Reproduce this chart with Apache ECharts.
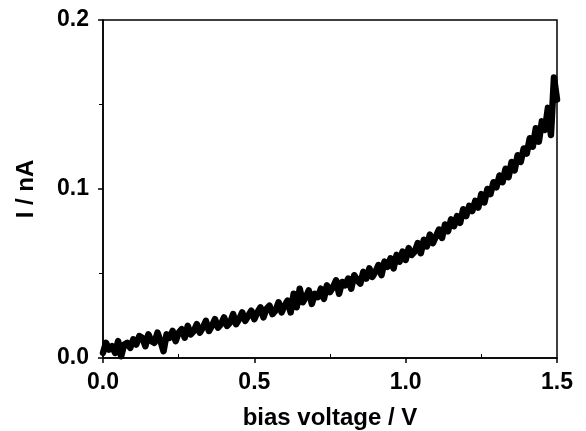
<!DOCTYPE html>
<html>
<head>
<meta charset="utf-8">
<script src="https://cdn.jsdelivr.net/npm/echarts@6/dist/echarts.min.js"></script>
<style>
  html, body { margin: 0; padding: 0; background: #fff; }
  #chart { width: 586px; height: 431px; }
</style>
</head>
<body>
<div id="chart"></div>
<script>
// bias voltage, steps of 0.01 V from 0.00 to 1.50
var voltStep = 0.01;
// current in nA
var current = [
  0.003, 0.009, 0.005, 0.007, 0.003, 0.010, 0.001, 0.008, 0.009, 0.006,
  0.011, 0.008, 0.013, 0.012, 0.007, 0.014, 0.010, 0.009, 0.015, 0.010,
  0.004, 0.014, 0.012, 0.016, 0.010, 0.015, 0.017, 0.012, 0.019, 0.014,
  0.016, 0.020, 0.015, 0.018, 0.022, 0.016, 0.019, 0.023, 0.018, 0.020,
  0.024, 0.019, 0.021, 0.026, 0.020, 0.023, 0.027, 0.022, 0.025, 0.028,
  0.023, 0.027, 0.030, 0.024, 0.029, 0.031, 0.026, 0.028, 0.033, 0.027,
  0.031, 0.034, 0.027, 0.038, 0.030, 0.041, 0.033, 0.036, 0.040, 0.032,
  0.038, 0.036, 0.041, 0.035, 0.043, 0.039, 0.042, 0.046, 0.038, 0.045,
  0.043, 0.047, 0.041, 0.049, 0.046, 0.044, 0.051, 0.047, 0.053, 0.048,
  0.051, 0.055, 0.049, 0.057, 0.054, 0.059, 0.053, 0.061, 0.057, 0.063,
  0.058, 0.065, 0.061, 0.063, 0.068, 0.062, 0.070, 0.066, 0.073, 0.068,
  0.072, 0.076, 0.071, 0.079, 0.075, 0.082, 0.078, 0.084, 0.080, 0.088,
  0.084, 0.090, 0.087, 0.093, 0.089, 0.097, 0.092, 0.100, 0.097, 0.104,
  0.101, 0.108, 0.104, 0.112, 0.107, 0.116, 0.111, 0.120, 0.116, 0.124,
  0.121, 0.130, 0.125, 0.136, 0.128, 0.140, 0.135, 0.148, 0.132, 0.166,
  0.153
];

var points = current.map(function (v, i) {
  return [+(i * voltStep).toFixed(2), v];
});

var font = '"Liberation Sans", Arial, sans-serif';

var chart = echarts.init(document.getElementById('chart'));
var option = {
  animation: false,
  backgroundColor: '#fff',
  grid: {
    left: 103, right: 29, top: 20, bottom: 73,
    outerBoundsMode: 'none',
    show: true, borderColor: '#000', borderWidth: 1.5, backgroundColor: 'transparent'
  },
  xAxis: {
    type: 'value',
    min: 0, max: 1.5, interval: 0.5,
    name: 'bias voltage / V',
    nameLocation: 'middle',
    nameGap: 48,
    nameTextStyle: { fontFamily: font, fontWeight: 'bold', fontSize: 24, color: '#000' },
    axisLine: { show: true, lineStyle: { color: '#000', width: 1.5 } },
    axisTick: { show: true, length: 5, lineStyle: { color: '#000', width: 1.5 } },
    minorTick: { show: true, splitNumber: 2, length: -4, lineStyle: { color: '#000' } },
    splitLine: { show: false },
    axisLabel: {
      fontFamily: font, fontWeight: 'bold', fontSize: 23, color: '#000', margin: 13,
      formatter: function (v) { return v.toFixed(1); }
    }
  },
  yAxis: {
    type: 'value',
    min: 0, max: 0.2, interval: 0.1,
    name: 'I / nA',
    nameLocation: 'middle',
    nameGap: 65,
    nameTextStyle: { fontFamily: font, fontWeight: 'bold', fontSize: 24, color: '#000' },
    axisLine: { show: true, lineStyle: { color: '#000', width: 1.5 } },
    axisTick: { show: true, length: 5, lineStyle: { color: '#000', width: 1.5 } },
    minorTick: { show: true, splitNumber: 2, length: 4, lineStyle: { color: '#000' } },
    splitLine: { show: false },
    axisLabel: {
      fontFamily: font, fontWeight: 'bold', fontSize: 23, color: '#000', margin: 14,
      formatter: function (v) { return v.toFixed(1); }
    }
  },
  series: [{
    type: 'line',
    data: points,
    showSymbol: false,
    lineStyle: { color: '#000', width: 6.5, join: 'round', cap: 'round' }
  }]
};
chart.setOption(option);
</script>
</body>
</html>
